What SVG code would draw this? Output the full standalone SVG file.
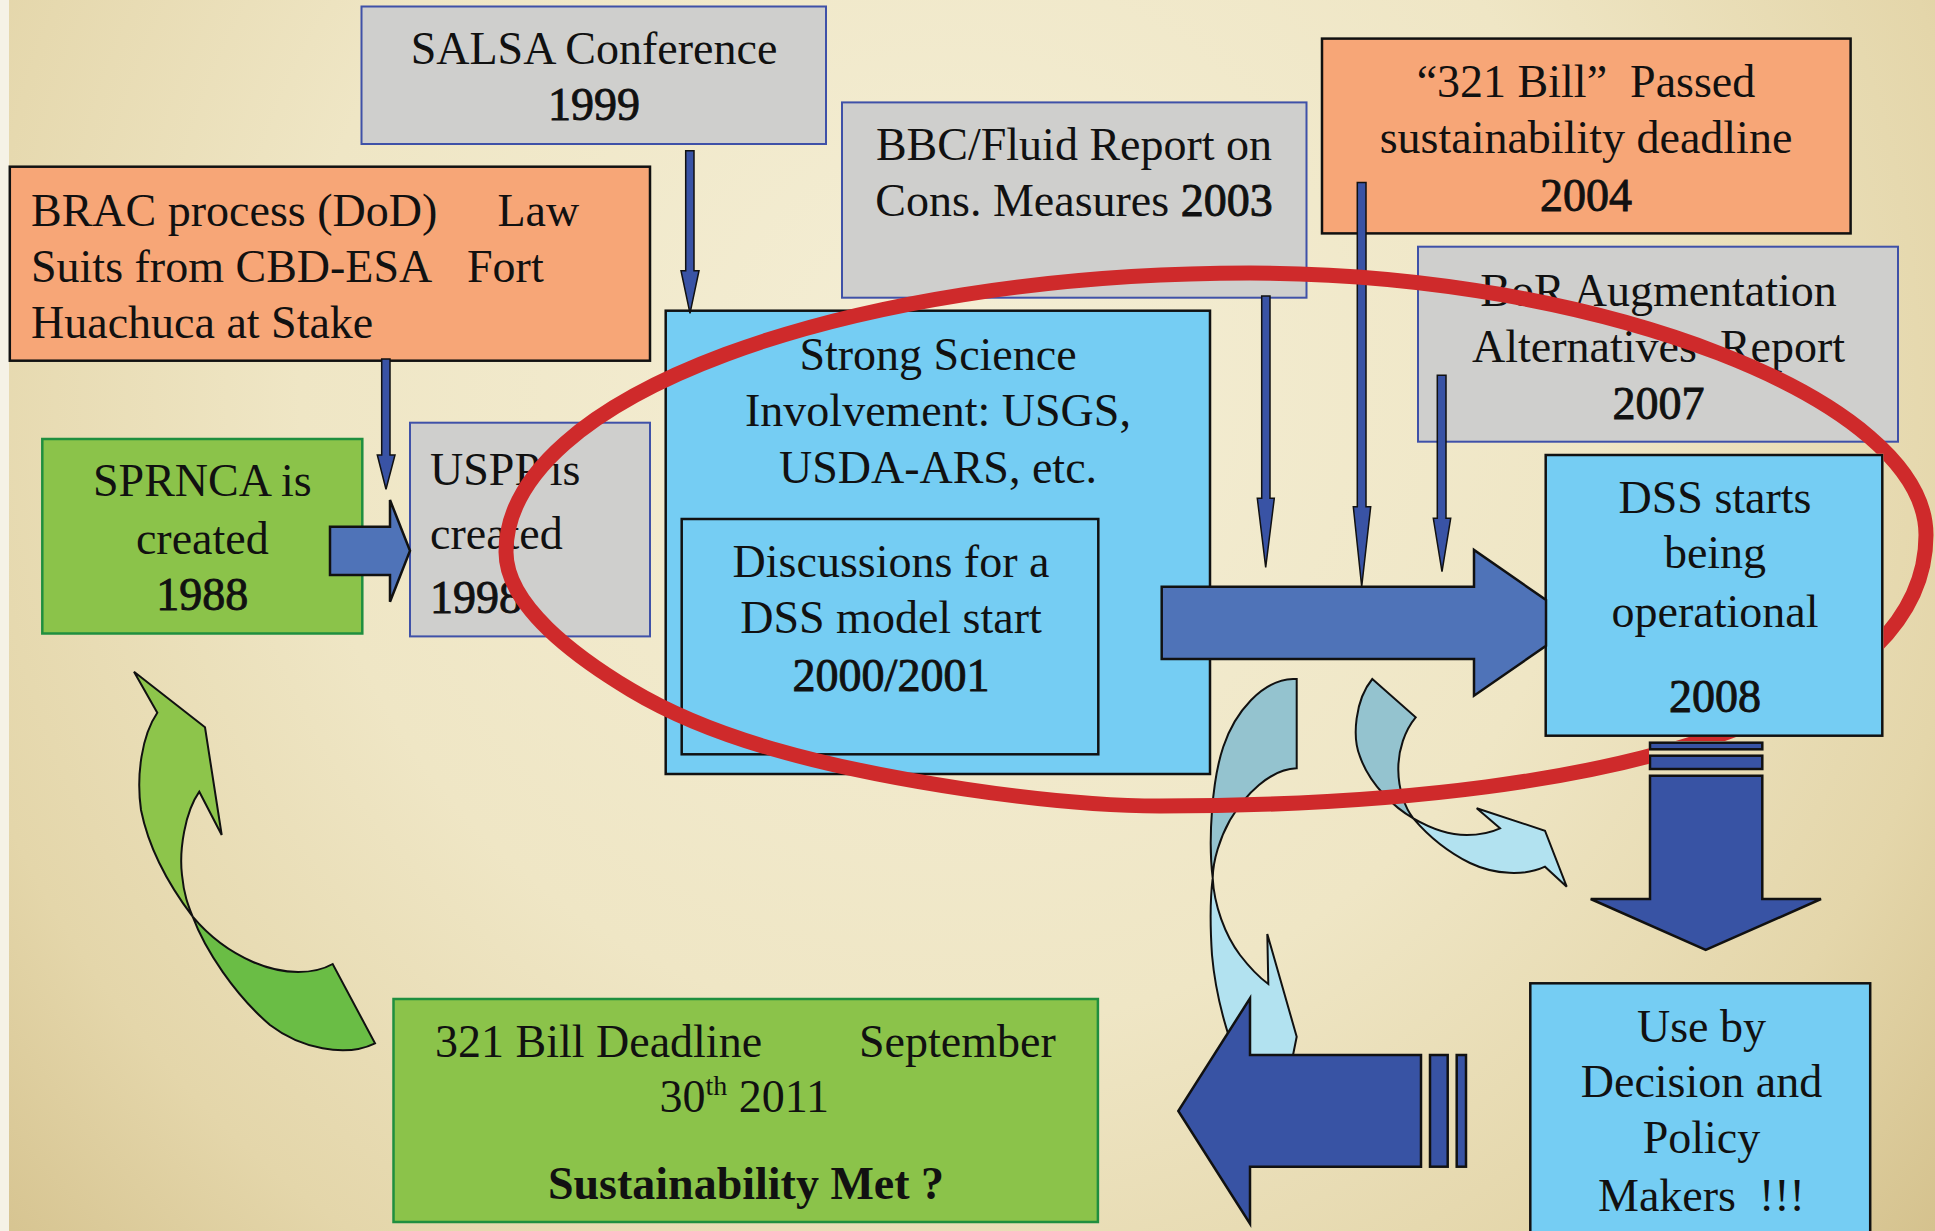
<svg xmlns="http://www.w3.org/2000/svg" width="1935" height="1231" viewBox="0 0 1935 1231">
<defs>
<radialGradient id="bg" cx="950" cy="380" r="1300" gradientUnits="userSpaceOnUse">
<stop offset="0" stop-color="#f4eed5"/>
<stop offset="0.5" stop-color="#efe6c5"/>
<stop offset="0.8" stop-color="#e4d6aa"/>
<stop offset="1" stop-color="#d5c28e"/>
</radialGradient>
<clipPath id="ringClip">
<path clip-rule="evenodd" d="M0,0 H1935 V1231 H0 Z M1544.5,453.8 V737 H1883.5 V453.8 Z M1649,741 V777 H1764 V741 Z"/>
</clipPath>
<style>
.t{font-family:"Liberation Serif","Times New Roman",serif;font-size:46px;fill:#111;}
.c{text-anchor:middle;}
.pre{white-space:pre;}
.yr{stroke:#111;stroke-width:0.9;}
.gray{fill:#cfcfcd;stroke:#3f51a8;stroke-width:2;}
.salmon{fill:#f7a677;stroke:#111;stroke-width:2.5;}
.green{fill:#8bc34a;stroke:#1f8f3f;stroke-width:2.5;}
.blue{fill:#75cdf3;stroke:#111;stroke-width:2.5;}
.thin{fill:#3953a5;stroke:#111;stroke-width:1.5;stroke-linejoin:miter;}
.block{fill:#4f73b8;stroke:#111;stroke-width:2.5;}
.dblock{fill:#3853a4;stroke:#111;stroke-width:2.5;}
.cdark{fill:#94c3cf;stroke:#111;stroke-width:2;}
.clight{fill:#b2e2f0;stroke:#111;stroke-width:2;}
.gup{fill:#8dc54b;stroke:#111;stroke-width:2;}
.gdn{fill:#6abd45;stroke:#111;stroke-width:2;}
</style>
</defs>

<rect x="0" y="0" width="1935" height="1231" fill="url(#bg)"/>
<rect x="0" y="0" width="9" height="1231" fill="#f5f2e6"/>

<g id="salsa">
<rect class="gray" x="361.5" y="6.5" width="464.5" height="137.5"/>
<text class="t c" x="594" y="64.3">SALSA Conference</text>
<text class="t c yr" x="594" y="120.2">1999</text>
</g>

<g id="brac">
<rect class="salmon" x="9.8" y="166.7" width="640.2" height="194"/>
<text class="t" x="31" y="226">BRAC process (DoD)<tspan x="497.5">Law</tspan></text>
<text class="t" x="31" y="282">Suits from CBD-ESA<tspan x="467">Fort</tspan></text>
<text class="t" x="31" y="338">Huachuca at Stake</text>
</g>

<g id="bbc">
<rect class="gray" x="842" y="102.4" width="464.5" height="195.3"/>
<text class="t c" x="1074" y="159.6">BBC/Fluid Report on</text>
<text class="t c" x="1074" y="215.6">Cons. Measures <tspan class="yr">2003</tspan></text>
</g>

<g id="bill321">
<rect class="salmon" x="1322" y="38.6" width="528.6" height="194.8"/>
<text class="t c pre" x="1586" y="97.4">“321 Bill”  Passed</text>
<text class="t c" x="1586" y="153.4">sustainability deadline</text>
<text class="t c yr" x="1586" y="211.4">2004</text>
</g>

<g id="bor">
<rect class="gray" x="1418" y="246.7" width="480" height="195"/>
<text class="t c" x="1658.6" y="306">BoR Augmentation</text>
<text class="t c pre" x="1658.6" y="362">Alternatives  Report</text>
<text class="t c yr" x="1658.6" y="418.7">2007</text>
</g>

<g id="sprnca">
<rect class="green" x="42.3" y="439" width="320" height="194.5"/>
<text class="t c" x="202.3" y="496">SPRNCA is</text>
<text class="t c" x="202.3" y="553.5">created</text>
<text class="t c yr" x="202.3" y="610">1988</text>
</g>

<g id="uspp">
<rect class="gray" x="410" y="422.7" width="240" height="213.7"/>
<text class="t" x="430" y="485">USPP is</text>
<text class="t" x="430" y="549">created</text>
<text class="t yr" x="430" y="612.8">1998</text>
</g>

<g id="science">
<rect class="blue" x="665.7" y="310.7" width="544.3" height="463.3"/>
<text class="t c" x="938" y="370">Strong Science</text>
<text class="t c" x="938" y="426">Involvement: USGS,</text>
<text class="t c" x="938" y="483.3">USDA-ARS, etc.</text>
</g>

<g id="discussions">
<rect class="blue" x="681.7" y="519" width="416.6" height="235.3"/>
<text class="t c" x="891" y="576.7">Discussions for a</text>
<text class="t c" x="891" y="633.3">DSS model start</text>
<text class="t c yr" x="891" y="690.7">2000/2001</text>
</g>

<g id="dss">
<rect class="blue" x="1545.7" y="455" width="336.6" height="280.7"/>
<text class="t c" x="1715" y="512.7">DSS starts</text>
<text class="t c" x="1715" y="568.3">being</text>
<text class="t c" x="1715" y="626.7">operational</text>
<text class="t c yr" x="1715" y="711.7">2008</text>
</g>

<g id="useby">
<rect class="blue" x="1530.3" y="983.3" width="339.9" height="262"/>
<text class="t c" x="1701.5" y="1041.7">Use by</text>
<text class="t c" x="1701.5" y="1097.3">Decision and</text>
<text class="t c" x="1701.5" y="1153.3">Policy</text>
<text class="t c pre" x="1701.5" y="1210.7">Makers  !!!</text>
</g>

<g id="deadline">
<rect class="green" x="393.5" y="999" width="704.4" height="223"/>
<text class="t" x="435" y="1056.5">321 Bill Deadline<tspan x="859">September</tspan></text>
<text class="t" x="659.4" y="1111.8">30<tspan font-size="28" dy="-17">th</tspan><tspan dy="17"> 2011</tspan></text>
<text class="t c" x="746" y="1198.7" font-weight="bold" font-size="44">Sustainability Met ?</text>
</g>

<g id="connectors">
<polygon class="thin" points="381.7,359 390,359 390,455 395,455 386,489.3 377.3,455 381.7,455"/>
<polygon class="thin" points="685.7,150.7 694,150.7 694,270.7 699,270.7 690,313.3 681,270.7 685.7,270.7"/>
<polygon class="thin" points="1261.7,296 1270,296 1270,498.3 1274.3,498.3 1265.7,567.3 1257.3,498.3 1261.7,498.3"/>
<polygon class="thin" points="1357.3,182.4 1366,182.4 1366,506.7 1370.7,506.7 1361.7,586.7 1353.3,506.7 1357.3,506.7"/>
<polygon class="thin" points="1437.3,375.2 1446,375.2 1446,518.3 1450.7,518.3 1442,571.7 1433.3,518.3 1437.3,518.3"/>
<polygon class="block" points="330,526.7 390,526.7 390,500 410,550.8 390,601.7 390,575 330,575"/>
<polygon class="block" points="1161.7,586.7 1474,586.7 1474,550 1546,599.9 1546,645.8 1474,695.7 1474,659 1161.7,659"/>
<rect class="dblock" x="1650" y="742.7" width="112.3" height="6.6"/>
<rect class="dblock" x="1650" y="755.7" width="112.3" height="13.3"/>
<polygon class="dblock" points="1650,775.7 1762.3,775.7 1762.3,899 1821,899 1705.7,950 1590.7,899 1650,899"/>
<path class="cdark" d="M1296.7,679 L1296.7,768.3 C1270,769 1245,795 1230,820 C1220,838 1213,860 1212.7,878 C1208,840 1212,780 1223.3,746.7 C1235,712 1262,680 1293,679 Z"/>
<path class="clight" d="M1212.7,878 C1214,905 1225,935 1240,955 C1250,968 1260,978 1268.3,984 L1267.3,934 L1296.7,1036.7 L1290,1070 L1240,1070 C1228,1035 1216,1000 1212,955 C1210,925 1210,900 1212.7,878 Z"/>
<path class="cdark" d="M1372.3,679 L1415.7,717.3 C1405,730 1398,750 1398.3,770 C1398.5,790 1405,808 1413.3,818.3 C1395,808 1370,785 1360,756.7 C1352,737 1355,700 1372.3,679 Z"/>
<path class="clight" d="M1413.3,818.3 C1430,828 1450,835 1466.7,835 C1480,835 1492,832 1500,828.3 L1476.7,808.3 L1545,830.7 L1566.7,886.7 L1545,866.7 C1525,876 1495,875 1470,863 C1450,853 1430,838 1413.3,818.3 Z"/>
<polygon class="dblock" points="1421,1055 1250,1055 1250,998.3 1178.3,1111 1250,1223.7 1250,1166.7 1421,1166.7"/>
<rect class="dblock" x="1430" y="1055" width="17.7" height="111.7"/>
<rect class="dblock" x="1456.7" y="1055" width="9.3" height="111.7"/>
<path class="gup" d="M134,671.7 L205,727.3 L221.7,835 L199.3,791.7 C185,812 179,850 182,875 C184,895 188,905 192.7,916.7 C165,880 148,845 141,810 C136,775 142,735 157.3,712.7 Z"/>
<path class="gdn" d="M192.7,916.7 C205,950 235,995 270,1025 C300,1048 345,1058 375,1043.3 L332.7,964 C315,974 285,976 253,962 C230,952 208,935 192.7,916.7 Z"/>
</g>

<g id="highlight" clip-path="url(#ringClip)">
<path d="M506,552 C506,397 844,273 1250,273 C1600,273 1926,400 1926,535 C1926,700 1650,806 1160,806 C1050,806 880,780 771.6,748.6 C724.6,735 678,718.2 631,690 C575,656.4 506,605 506,552 Z" fill="none" stroke="#cf2a2b" stroke-width="15"/>
</g>
</svg>
